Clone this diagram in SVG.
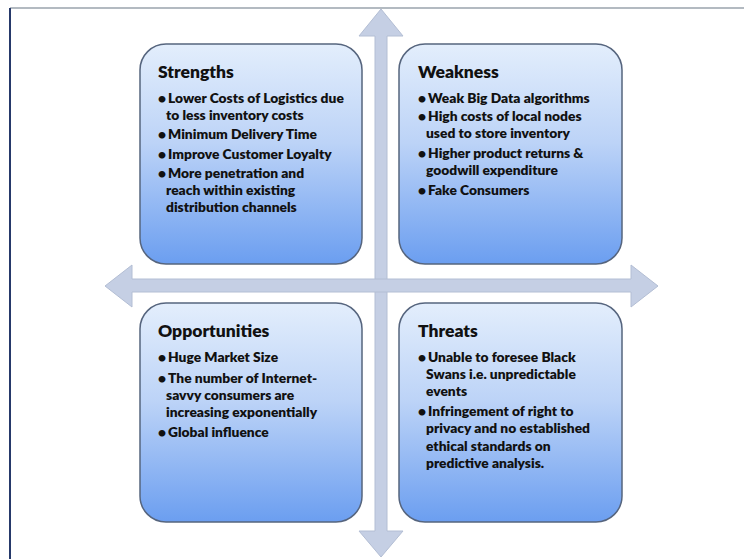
<svg xmlns="http://www.w3.org/2000/svg" width="744" height="559" viewBox="0 0 744 559">
<defs>
<linearGradient id="boxg" x1="0" y1="0" x2="0" y2="1">
<stop offset="0" stop-color="#e3eefc"/>
<stop offset="0.45" stop-color="#bcd3f7"/>
<stop offset="1" stop-color="#6b9ef0"/>
</linearGradient>
<style>
.box{fill:url(#boxg);stroke:#56657e;stroke-width:1.5}
.arr{fill:#c5cfe4;stroke:#b3bed4;stroke-width:1}
.t{font-family:Lato,"Liberation Sans",sans-serif;font-weight:800;fill:#111}
.h{font-size:17.5px}
.b{font-size:13.8px}
</style>
</defs>
<rect x="0" y="0" width="744" height="559" fill="#ffffff"/>
<line x1="10" y1="8" x2="744" y2="8" stroke="#9aa3ad" stroke-width="1.5"/>
<line x1="10" y1="8" x2="10" y2="559" stroke="#26396a" stroke-width="2"/>
<g id="connectors">
<polygon class="arr" points="381,9 403,36 387,36 387,531 403,531 381,557 359,531 375,531 375,36 359,36"/>
<polygon class="arr" points="105,286 132,265 132,279 631,279 631,265 658,286 631,307 631,292 132,292 132,307"/>
</g>
<g id="strengths">
<rect class="box" x="140" y="44" width="222" height="220" rx="26"/>
<text class="t h" x="158" y="78">Strengths</text>
<text class="t b" x="158" y="103">•<tspan dx="2">Lower Costs of Logistics due</tspan></text>
<text class="t b" x="166" y="120">to less inventory costs</text>
<text class="t b" x="158" y="139">•<tspan dx="2">Minimum Delivery Time</tspan></text>
<text class="t b" x="158" y="159">•<tspan dx="2">Improve Customer Loyalty</tspan></text>
<text class="t b" x="158" y="178">•<tspan dx="2">More penetration  and</tspan></text>
<text class="t b" x="166" y="195">reach within existing</text>
<text class="t b" x="166" y="212">distribution channels</text>
</g>
<g id="weakness">
<rect class="box" x="399" y="44" width="223" height="220" rx="26"/>
<text class="t h" x="418" y="78">Weakness</text>
<text class="t b" x="418" y="103">•<tspan dx="2">Weak Big Data algorithms</tspan></text>
<text class="t b" x="418" y="121">•<tspan dx="2">High costs of local nodes</tspan></text>
<text class="t b" x="426" y="138">used to store inventory</text>
<text class="t b" x="418" y="158">•<tspan dx="2">Higher product returns &amp;</tspan></text>
<text class="t b" x="426" y="175">goodwill expenditure</text>
<text class="t b" x="418" y="195">•<tspan dx="2">Fake Consumers</tspan></text>
</g>
<g id="opportunities">
<rect class="box" x="140" y="303" width="222" height="219" rx="26"/>
<text class="t h" x="158" y="337">Opportunities</text>
<text class="t b" x="158" y="362">•<tspan dx="2">Huge Market Size</tspan></text>
<text class="t b" x="158" y="383">•<tspan dx="2">The number of  Internet-</tspan></text>
<text class="t b" x="166" y="400">savvy consumers are</text>
<text class="t b" x="166" y="417">increasing exponentially</text>
<text class="t b" x="158" y="437">•<tspan dx="2">Global influence</tspan></text>
</g>
<g id="threats">
<rect class="box" x="399" y="303" width="223" height="219" rx="26"/>
<text class="t h" x="418" y="337">Threats</text>
<text class="t b" x="418" y="362">•<tspan dx="2">Unable to foresee Black</tspan></text>
<text class="t b" x="426" y="379">Swans i.e. unpredictable</text>
<text class="t b" x="426" y="396">events</text>
<text class="t b" x="418" y="416">•<tspan dx="2">Infringement of right to</tspan></text>
<text class="t b" x="426" y="433">privacy and no established</text>
<text class="t b" x="426" y="451">ethical standards on</text>
<text class="t b" x="426" y="468">predictive analysis.</text>
</g>
</svg>
